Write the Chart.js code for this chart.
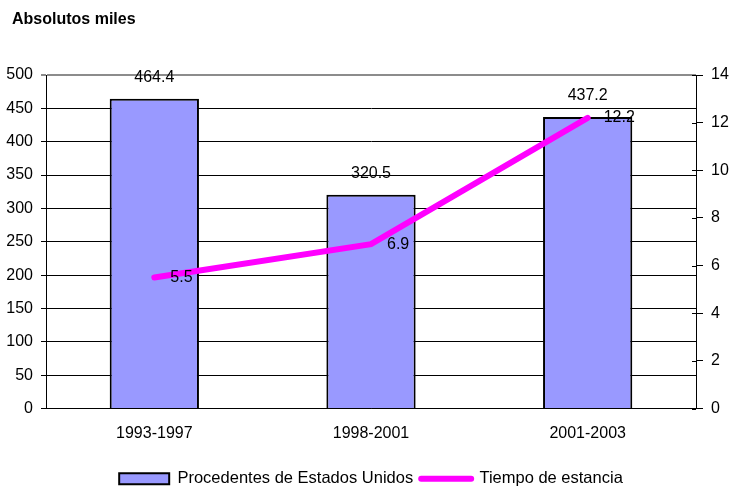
<!DOCTYPE html>
<html>
<head>
<meta charset="utf-8">
<script src="https://cdn.jsdelivr.net/npm/chart.js@4/dist/chart.umd.min.js"></script>
<style>
  html, body { margin: 0; padding: 0; background: #fff; }
  #wrap { width: 731px; height: 486px; }
</style>
</head>
<body>
<div id="wrap"><canvas id="myChart"></canvas></div>
<script>
const periodos = ['1993-1997', '1998-2001', '2001-2003'];
const procedentes = [464.4, 320.5, 437.2];
const tiempo = [5.5, 6.9, 12.2];
const ticksMiles = [0, 500, 50];
const ticksTiempo = [0, 14, 2];
const titulo = 'Absolutos miles';

const FONT = '"Liberation Sans", Arial, sans-serif';

// heading in the top left corner, numbers on bars and line points,
// and the short inner half of the right axis ticks
const extras = {
    id: 'extras',
    afterDraw(chart) {
        const ctx = chart.ctx;
        ctx.save();
        ctx.fillStyle = '#000';
        ctx.textBaseline = 'middle';
        ctx.textAlign = 'left';
        ctx.font = 'bold 16px ' + FONT;
        ctx.fillText(titulo, 12, 20);

        const y1 = chart.scales.y1;
        ctx.strokeStyle = '#000';
        ctx.lineWidth = 1;
        y1.ticks.forEach(t => {
            const py = Math.round(y1.getPixelForValue(t.value)) + 0.5;
            ctx.beginPath();
            ctx.moveTo(y1.left - 4, py);
            ctx.lineTo(y1.left, py);
            ctx.stroke();
        });
        ctx.restore();
    },
    afterDatasetsDraw(chart) {
        const ctx = chart.ctx;
        ctx.save();
        ctx.font = '16px ' + FONT;
        ctx.fillStyle = '#000';
        ctx.textBaseline = 'middle';
        ctx.textAlign = 'center';
        chart.getDatasetMeta(0).data.forEach((bar, i) => {
            ctx.fillText(procedentes[i].toFixed(1), bar.x, bar.y - 21);
        });
        ctx.textAlign = 'left';
        chart.getDatasetMeta(1).data.forEach((pt, i) => {
            ctx.fillText(tiempo[i].toFixed(1), pt.x + 16, pt.y);
        });
        ctx.restore();
    }
};

const ctx = document.getElementById('myChart').getContext('2d');
new Chart(ctx, {
    data: {
        labels: periodos,
        datasets: [{
            type: 'bar',
            label: 'Procedentes de Estados Unidos',
            data: procedentes,
            yAxisID: 'y',
            backgroundColor: '#9999ff',
            borderColor: '#000',
            borderWidth: 2,
            barPercentage: 0.412,
            categoryPercentage: 1,
            order: 1
        }, {
            type: 'line',
            label: 'Tiempo de estancia',
            data: tiempo,
            yAxisID: 'y1',
            borderColor: '#ff00ff',
            backgroundColor: '#ff00ff',
            borderWidth: 6,
            borderCapStyle: 'round',
            borderJoinStyle: 'miter',
            pointRadius: 0,
            tension: 0,
            order: 0
        }]
    },
    options: {
        responsive: true,
        maintainAspectRatio: false,
        animation: false,
        layout: { padding: { left: 0, right: 0, top: 75, bottom: -11 } },
        scales: {
            x: {
                grid: { display: false, drawTicks: false },
                border: { display: true, color: '#000', width: 1 },
                ticks: { color: '#000', font: { family: FONT, size: 16 }, padding: 15 },
                afterFit(scale) { scale.height = 54; }
            },
            y: {
                position: 'left',
                min: ticksMiles[0],
                max: ticksMiles[1],
                ticks: { stepSize: ticksMiles[2], color: '#000', font: { family: FONT, size: 16 }, padding: 8 },
                grid: {
                    color: c => c.tick && c.tick.value === ticksMiles[1] ? '#8c8c8c' : '#000',
                    lineWidth: c => c.tick && c.tick.value === ticksMiles[1] ? 2 : 1,
                    tickLength: 5
                },
                border: { color: '#000', width: 1 },
                afterFit(scale) { scale.width = 46; }
            },
            y1: {
                position: 'right',
                min: ticksTiempo[0],
                max: ticksTiempo[1],
                ticks: { stepSize: ticksTiempo[2], color: '#000', font: { family: FONT, size: 16 }, padding: 8 },
                grid: { drawOnChartArea: false, color: '#000', tickLength: 7 },
                border: { color: '#000', width: 1 },
                afterFit(scale) { scale.width = 35; }
            }
        },
        plugins: {
            title: { display: false },
            legend: {
                position: 'bottom',
                fullSize: false,
                labels: {
                    usePointStyle: true,
                    pointStyleWidth: 50,
                    boxHeight: 11,
                    padding: 8,
                    color: '#000',
                    font: { family: FONT, size: 16.5 },
                    generateLabels: () => [{
                        text: 'Procedentes de Estados Unidos',
                        fillStyle: '#9999ff',
                        strokeStyle: '#000',
                        lineWidth: 2,
                        pointStyle: 'rect',
                        datasetIndex: 0
                    }, {
                        text: 'Tiempo de estancia',
                        fillStyle: '#ff00ff',
                        strokeStyle: '#ff00ff',
                        lineWidth: 6,
                        lineCap: 'round',
                        pointStyle: 'line',
                        datasetIndex: 1
                    }]
                }
            },
            tooltip: { enabled: false }
        }
    },
    plugins: [extras]
});
</script>
</body>
</html>
